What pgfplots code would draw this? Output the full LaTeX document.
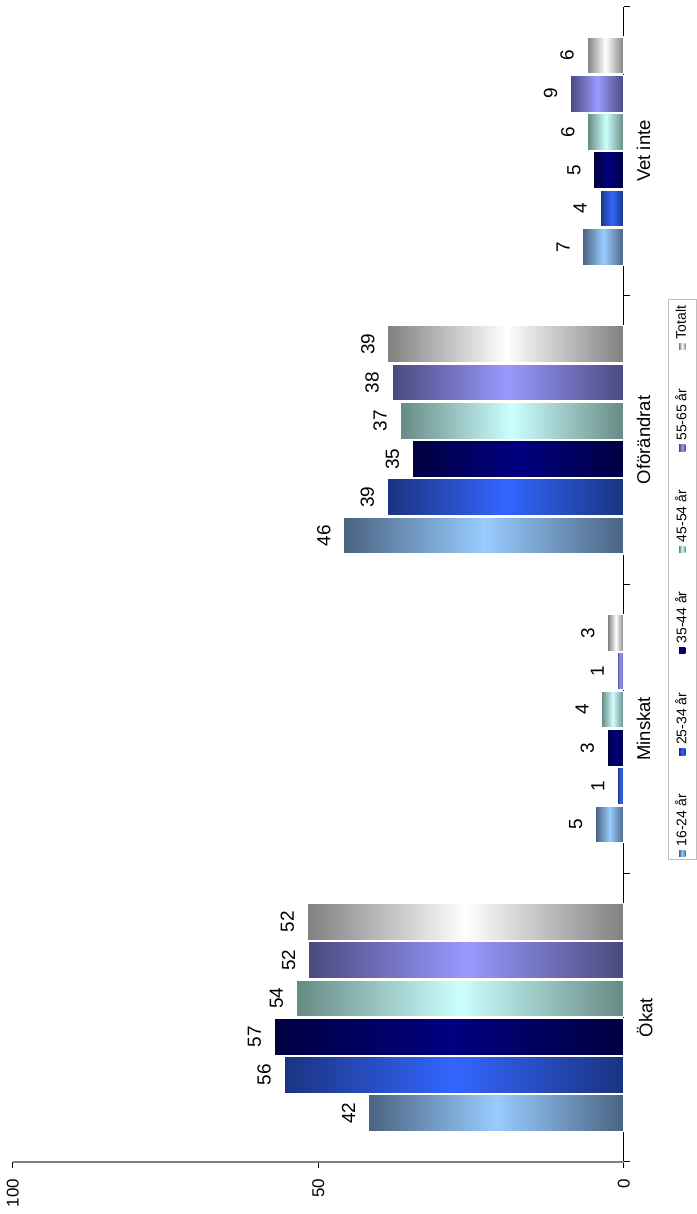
\documentclass[border=0pt]{standalone}
\usepackage{fontspec}
\setmainfont{Liberation Sans}
\usepackage{pgfplots}
\pgfplotsset{compat=1.18}
\definecolor{dA}{HTML}{4A6382}\definecolor{lA}{HTML}{99CCFF}
\definecolor{dB}{HTML}{1A3380}\definecolor{lB}{HTML}{3366FF}
\definecolor{dC}{HTML}{000040}\definecolor{lC}{HTML}{000080}
\definecolor{dD}{HTML}{668A84}\definecolor{lD}{HTML}{CCFFFF}
\definecolor{dE}{HTML}{4A4A7F}\definecolor{lE}{HTML}{9999FF}
\definecolor{dF}{HTML}{808080}\definecolor{lF}{HTML}{FFFFFF}
% each bar is its own \addplot so that every bar gets its own shading
\pgfplotsset{
  mybar/.style n args={2}{ybar, bar shift=0pt, draw=white, line width=0.6pt,
    top color=#1, bottom color=#1, middle color=#2,
    legend image code/.code={\path[##1, draw=none] (0pt,-1.6pt) rectangle (3.2pt,1.6pt);}},
  sA/.style={mybar={dA}{lA}}, sB/.style={mybar={dB}{lB}}, sC/.style={mybar={dC}{lC}},
  sD/.style={mybar={dD}{lD}}, sE/.style={mybar={dE}{lE}}, sF/.style={mybar={dF}{lF}},
}
\begin{document}
\begin{tikzpicture}[rotate=90, transform shape]
\begin{axis}[
  scale only axis, width=578.5pt, height=306pt,
  xmin=-0.5, xmax=3.5, ymin=0, ymax=100,
  bar width=18.5pt,
  axis x line*=bottom, axis y line*=left,
  x axis line style={black, line width=0.6pt, -},
  y axis line style={gray, line width=0.6pt, -},
  xtick={-0.5,0.5,1.5,2.5,3.5}, xticklabels={},
  extra x ticks={0,1,2,3},
  extra x tick labels={Ökat,Minskat,Oförändrat,Vet inte},
  extra x tick style={major tick length=0pt, tick label style={font=\fontsize{9.25}{11}\selectfont, yshift=-3pt}},
  ytick={0,50,100},
  tick align=outside, major tick length=3pt,
  tick style={black, line width=0.5pt},
  yticklabel style={font=\fontsize{8.5}{10}\selectfont, xshift=-2pt},
  /pgf/number format/assume math mode=true,
  nodes near coords={\pgfmathprintnumber[fixed,precision=0]{\pgfplotspointmeta}},
  every node near coord/.append style={font=\fontsize{9.5}{11}\selectfont, black, anchor=south, yshift=3pt},
  legend style={at={(0.5,0)}, anchor=north, xshift=2.5pt, yshift=-22pt, draw=gray!50,
    font=\fontsize{7}{8.5}\selectfont, legend columns=-1, inner sep=1.5pt,
    /tikz/every even column/.append style={column sep=17.5pt}},
  clip=false,
]
% Ökat (category 0) -- these carry the legend entries
\addplot[sA] coordinates {(-0.33125,41.8)};
\addplot[sB] coordinates {(-0.19875,55.6)};
\addplot[sC] coordinates {(-0.06625,57.2)};
\addplot[sD] coordinates {(0.06625,53.6)};
\addplot[sE] coordinates {(0.19875,51.6)};
\addplot[sF] coordinates {(0.33125,51.8)};
\legend{16-24 år, 25-34 år, 35-44 år, 45-54 år, 55-65 år, Totalt}
% Minskat (category 1)
\addplot[sA, forget plot] coordinates {(0.66875,4.6)};
\addplot[sB, forget plot] coordinates {(0.80125,1.0)};
\addplot[sC, forget plot] coordinates {(0.93375,2.7)};
\addplot[sD, forget plot] coordinates {(1.06625,3.6)};
\addplot[sE, forget plot] coordinates {(1.19875,1.1)};
\addplot[sF, forget plot] coordinates {(1.33125,2.6)};
% Oförändrat (category 2)
\addplot[sA, forget plot] coordinates {(1.66875,45.8)};
\addplot[sB, forget plot] coordinates {(1.80125,38.7)};
\addplot[sC, forget plot] coordinates {(1.93375,34.6)};
\addplot[sD, forget plot] coordinates {(2.06625,36.6)};
\addplot[sE, forget plot] coordinates {(2.19875,37.9)};
\addplot[sF, forget plot] coordinates {(2.33125,38.6)};
% Vet inte (category 3)
\addplot[sA, forget plot] coordinates {(2.66875,6.7)};
\addplot[sB, forget plot] coordinates {(2.80125,3.9)};
\addplot[sC, forget plot] coordinates {(2.93375,4.9)};
\addplot[sD, forget plot] coordinates {(3.06625,5.9)};
\addplot[sE, forget plot] coordinates {(3.19875,8.7)};
\addplot[sF, forget plot] coordinates {(3.33125,6.0)};
\end{axis}
\end{tikzpicture}
\end{document}
